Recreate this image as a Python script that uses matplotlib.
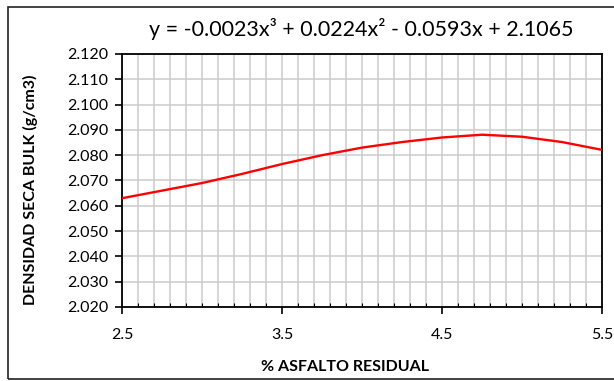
import numpy as np
import matplotlib.pyplot as plt
from matplotlib.patches import Rectangle
from matplotlib.ticker import MultipleLocator, FormatStrFormatter

# values
asfalto = [2.5, 2.75, 3.0, 3.25, 3.5, 3.75, 4.0, 4.25, 4.5, 4.75, 5.0, 5.25, 5.5]
densidad = [2.0630, 2.0660, 2.0690, 2.0726, 2.0765, 2.0800, 2.0830, 2.0852,
            2.0870, 2.0881, 2.0873, 2.0852, 2.0821]

titulo = "y = -0.0023x³ + 0.0224x² - 0.0593x + 2.1065"
x_ticks = [2.5, 3.5, 4.5, 5.5]

plt.rcParams.update({
    "font.family": ["Lato", "DejaVu Sans"],
    "font.size": 10,
})

W, H = 614, 381
fig = plt.figure(figsize=(W / 100, H / 100), dpi=100)
fig.patch.set_facecolor("white")

# outer chart frame
fig.patches.append(Rectangle((8 / W, 2 / H), 1.2, (372) / H,
                             transform=fig.transFigure, fill=False,
                             edgecolor="#222222", lw=1.2))

ax = fig.add_axes([122 / W, 1 - 307 / H, 480 / W, 253 / H])
ax.plot(asfalto, densidad, color="#ff0000", lw=1.7, zorder=3)

ax.set_xlim(2.5, 5.5)
ax.set_ylim(2.02, 2.12)
ax.set_xticks(x_ticks)
ax.xaxis.set_minor_locator(MultipleLocator(0.1))
ax.yaxis.set_major_locator(MultipleLocator(0.01))
ax.yaxis.set_major_formatter(FormatStrFormatter("%.3f"))

ax.grid(True, which="both", axis="x", color="#cccccc", lw=1.1)
ax.grid(True, which="major", axis="y", color="#cccccc", lw=1.1)
ax.set_axisbelow(True)

for s in ax.spines.values():
    s.set_color("black")
    s.set_linewidth(1.3)

ax.tick_params(axis="x", which="major", direction="out", length=5, width=1.2,
               labelsize=11.5, pad=10)
ax.tick_params(axis="x", which="minor", direction="in", length=3, width=0.8)
ax.tick_params(axis="y", which="major", direction="out", length=5, width=1.2,
               labelsize=11.5, pad=5)

fig.text(361 / W, 1 - 29 / H, titulo, ha="center", va="center", fontsize=15.5)
fig.text(345 / W, 1 - 367 / H, "% ASFALTO RESIDUAL", ha="center", va="center",
         fontsize=11.5, fontweight="bold")
fig.text(30 / W, 1 - 190 / H, "DENSIDAD SECA BULK (g/cm3)", ha="center",
         va="center", rotation=90, fontsize=11.5, fontweight="bold")

fig.savefig("out.png", dpi=100)
